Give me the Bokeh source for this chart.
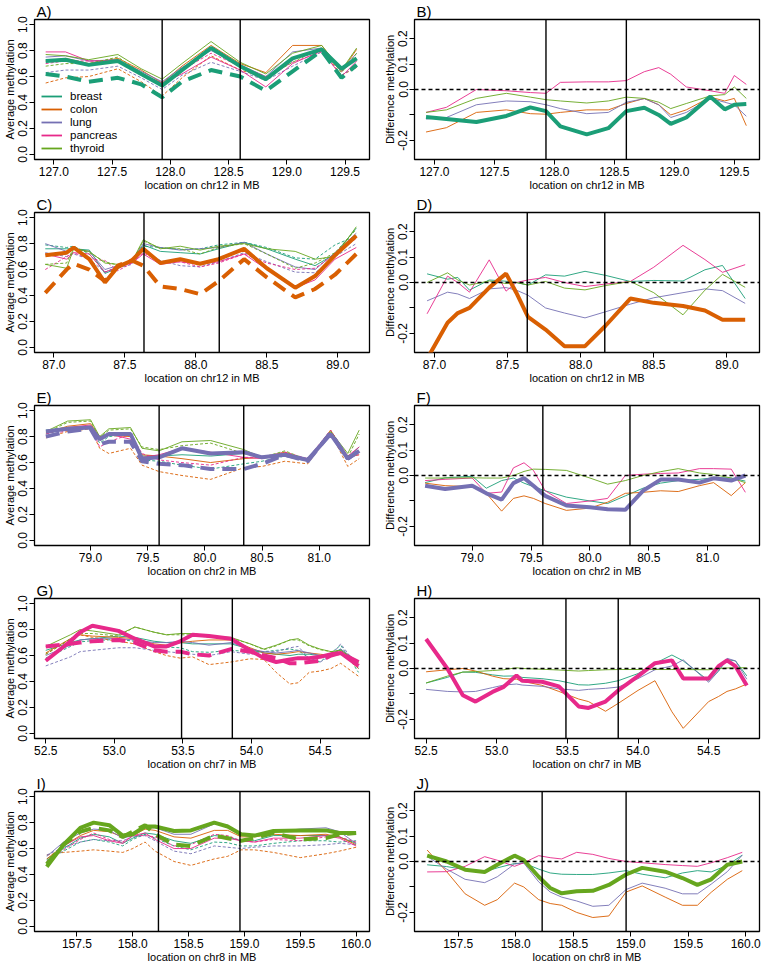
from bokeh.plotting import figure
from bokeh.layouts import gridplot
from bokeh.models import Span, Legend, LegendItem, FixedTicker, PrintfTickFormatter, Range1d
from bokeh.embed import file_html
from bokeh.resources import INLINE

TISSUES = ["breast", "colon", "lung", "pancreas", "thyroid"]
COLORS = {"breast": "#1B9E77", "colon": "#D95F02", "lung": "#7570B3",
          "pancreas": "#E7298A", "thyroid": "#66A61E"}
FONT = "Liberation Sans"

# ---------------- Panel A (chr12, breast highlighted) ----------------
A_x = [126.93, 127.1, 127.3, 127.55, 127.75, 127.93, 128.1, 128.35, 128.6, 128.82, 129.05, 129.3, 129.47, 129.6]
A_breast_n = [0.72, 0.73, 0.69, 0.72, 0.62, 0.53, 0.65, 0.82, 0.68, 0.58, 0.74, 0.81, 0.66, 0.74]
A_breast_t = [0.62, 0.60, 0.56, 0.59, 0.54, 0.44, 0.56, 0.65, 0.60, 0.49, 0.64, 0.80, 0.59, 0.69]
A_colon_n = [0.72, 0.74, 0.70, 0.74, 0.65, 0.55, 0.68, 0.84, 0.70, 0.63, 0.84, 0.84, 0.64, 0.81]
A_colon_t = [0.55, 0.59, 0.60, 0.66, 0.56, 0.45, 0.59, 0.76, 0.65, 0.59, 0.74, 0.81, 0.61, 0.67]
A_lung_n = [0.75, 0.76, 0.72, 0.73, 0.64, 0.56, 0.67, 0.80, 0.69, 0.60, 0.79, 0.82, 0.65, 0.78]
A_lung_t = [0.63, 0.65, 0.65, 0.68, 0.59, 0.50, 0.61, 0.71, 0.64, 0.57, 0.68, 0.79, 0.61, 0.68]
A_pancreas_n = [0.79, 0.79, 0.72, 0.72, 0.62, 0.55, 0.62, 0.75, 0.65, 0.52, 0.70, 0.80, 0.60, 0.72]
A_pancreas_t = [0.70, 0.72, 0.72, 0.72, 0.61, 0.53, 0.65, 0.78, 0.68, 0.60, 0.71, 0.79, 0.64, 0.74]
A_thyroid_n = [0.77, 0.76, 0.73, 0.77, 0.66, 0.58, 0.70, 0.87, 0.71, 0.62, 0.78, 0.84, 0.65, 0.82]
A_thyroid_t = [0.68, 0.70, 0.70, 0.75, 0.63, 0.54, 0.66, 0.82, 0.68, 0.59, 0.71, 0.82, 0.63, 0.78]

# ---------------- Panel B ----------------
B_x = [126.93, 127.1, 127.35, 127.6, 127.8, 127.93, 128.05, 128.27, 128.45, 128.6, 128.75, 128.87, 128.97, 129.1, 129.3, 129.42, 129.5, 129.6]
B_breast = [-0.108, -0.116, -0.128, -0.104, -0.07, -0.085, -0.145, -0.176, -0.152, -0.085, -0.072, -0.10, -0.135, -0.11, -0.028, -0.078, -0.06, -0.057]
B_colon = [-0.167, -0.15, -0.09, -0.08, -0.095, -0.097, -0.09, -0.08, -0.08, -0.055, -0.035, -0.06, -0.10, -0.08, -0.03, -0.045, -0.035, -0.142]
B_lung = [-0.116, -0.11, -0.06, -0.045, -0.048, -0.06, -0.075, -0.095, -0.09, -0.05, -0.036, -0.06, -0.11, -0.09, -0.035, -0.05, -0.06, -0.105]
B_pancreas = [-0.09, -0.07, 0.0, -0.005, -0.012, -0.015, 0.028, 0.030, 0.030, 0.035, 0.07, 0.086, 0.06, 0.01, -0.005, -0.015, 0.055, 0.02]
B_thyroid = [-0.09, -0.08, -0.035, -0.015, -0.03, -0.04, -0.045, -0.053, -0.045, -0.03, -0.035, -0.05, -0.075, -0.055, -0.025, -0.02, 0.01, -0.035]

# ---------------- Panel C (chr12, colon highlighted) ----------------
C_x = [86.94, 87.09, 87.14, 87.25, 87.36, 87.45, 87.55, 87.63, 87.75, 87.89, 88.03, 88.16, 88.34, 88.5, 88.7, 88.84, 88.98, 89.13]
C_colon_n = [0.71, 0.73, 0.77, 0.68, 0.50, 0.62, 0.67, 0.76, 0.65, 0.68, 0.645, 0.68, 0.76, 0.61, 0.46, 0.55, 0.71, 0.86]
C_colon_t = [0.42, 0.60, 0.645, 0.60, 0.51, 0.63, 0.67, 0.63, 0.47, 0.45, 0.41, 0.51, 0.68, 0.54, 0.385, 0.45, 0.56, 0.72]
C_breast_n = [0.76, 0.76, 0.76, 0.75, 0.57, 0.61, 0.66, 0.79, 0.74, 0.73, 0.72, 0.76, 0.81, 0.76, 0.68, 0.63, 0.72, 0.92]
C_breast_t = [0.79, 0.77, 0.78, 0.72, 0.58, 0.62, 0.66, 0.78, 0.77, 0.755, 0.76, 0.79, 0.81, 0.77, 0.69, 0.68, 0.79, 0.86]
C_lung_n = [0.80, 0.74, 0.76, 0.74, 0.60, 0.63, 0.67, 0.80, 0.77, 0.75, 0.76, 0.77, 0.81, 0.72, 0.62, 0.60, 0.73, 0.88]
C_lung_t = [0.73, 0.70, 0.72, 0.68, 0.58, 0.61, 0.64, 0.75, 0.67, 0.63, 0.62, 0.66, 0.73, 0.66, 0.58, 0.575, 0.70, 0.80]
C_pancreas_n = [0.72, 0.68, 0.73, 0.72, 0.58, 0.62, 0.65, 0.72, 0.64, 0.66, 0.64, 0.66, 0.72, 0.60, 0.46, 0.52, 0.68, 0.77]
C_pancreas_t = [0.60, 0.70, 0.73, 0.68, 0.67, 0.59, 0.65, 0.73, 0.66, 0.66, 0.62, 0.65, 0.72, 0.65, 0.60, 0.61, 0.72, 0.84]
C_thyroid_n = [0.64, 0.61, 0.76, 0.74, 0.65, 0.64, 0.66, 0.83, 0.76, 0.78, 0.75, 0.78, 0.80, 0.76, 0.74, 0.68, 0.70, 0.93]
C_thyroid_t = [0.64, 0.65, 0.77, 0.73, 0.66, 0.635, 0.66, 0.82, 0.765, 0.76, 0.72, 0.77, 0.80, 0.72, 0.61, 0.65, 0.73, 0.91]

# ---------------- Panel D ----------------
D_x = [86.95, 87.09, 87.16, 87.24, 87.375, 87.49, 87.56, 87.64, 87.76, 87.89, 88.03, 88.17, 88.34, 88.5, 88.7, 88.85, 88.97, 89.125]
D_colon = [-0.30, -0.158, -0.12, -0.10, -0.02, 0.035, -0.04, -0.135, -0.185, -0.25, -0.25, -0.17, -0.063, -0.08, -0.092, -0.11, -0.146, -0.146]
D_breast = [0.034, 0.013, 0.02, -0.03, 0.01, 0.005, 0.0, -0.01, 0.03, 0.025, 0.044, 0.028, 0.004, 0.008, 0.006, 0.05, 0.067, -0.063]
D_lung = [-0.072, -0.038, -0.045, -0.063, -0.025, -0.02, -0.03, -0.05, -0.10, -0.12, -0.139, -0.115, -0.085, -0.06, -0.04, -0.025, -0.032, -0.082]
D_pancreas = [-0.123, 0.025, 0.0, -0.038, 0.089, -0.034, 0.0, 0.01, 0.02, 0.0, -0.016, -0.006, 0.004, 0.06, 0.146, 0.09, 0.04, 0.07]
D_thyroid = [0.0, 0.038, 0.01, -0.01, 0.006, -0.004, 0.0, -0.01, 0.004, -0.022, -0.029, -0.012, 0.004, -0.04, -0.127, -0.03, 0.032, -0.019]

# ---------------- Panel E (chr2, lung highlighted) ----------------
E_x = [78.61, 78.8, 79.0, 79.08, 79.16, 79.35, 79.45, 79.6, 79.8, 80.05, 80.34, 80.5, 80.7, 80.9, 81.1, 81.25, 81.35]
E_lung_n = [0.84, 0.86, 0.87, 0.78, 0.82, 0.82, 0.63, 0.64, 0.71, 0.67, 0.68, 0.64, 0.66, 0.62, 0.82, 0.63, 0.69]
E_lung_t = [0.80, 0.84, 0.86, 0.74, 0.76, 0.76, 0.61, 0.59, 0.58, 0.55, 0.55, 0.59, 0.66, 0.61, 0.83, 0.63, 0.69]
E_breast_n = [0.85, 0.87, 0.88, 0.80, 0.82, 0.83, 0.65, 0.65, 0.66, 0.65, 0.67, 0.64, 0.67, 0.62, 0.83, 0.64, 0.72]
E_breast_t = [0.82, 0.86, 0.87, 0.75, 0.80, 0.82, 0.62, 0.61, 0.58, 0.55, 0.59, 0.61, 0.65, 0.61, 0.82, 0.62, 0.70]
E_colon_n = [0.83, 0.88, 0.90, 0.80, 0.81, 0.80, 0.66, 0.65, 0.63, 0.60, 0.63, 0.64, 0.68, 0.62, 0.85, 0.64, 0.66]
E_colon_t = [0.79, 0.84, 0.86, 0.71, 0.67, 0.71, 0.58, 0.53, 0.50, 0.47, 0.56, 0.57, 0.61, 0.59, 0.83, 0.57, 0.63]
E_pancreas_n = [0.82, 0.87, 0.89, 0.79, 0.82, 0.78, 0.64, 0.66, 0.71, 0.68, 0.64, 0.63, 0.67, 0.61, 0.83, 0.65, 0.72]
E_pancreas_t = [0.80, 0.85, 0.88, 0.72, 0.76, 0.82, 0.67, 0.62, 0.60, 0.58, 0.64, 0.64, 0.68, 0.63, 0.85, 0.65, 0.66]
E_thyroid_n = [0.84, 0.92, 0.93, 0.80, 0.86, 0.87, 0.71, 0.69, 0.76, 0.77, 0.70, 0.64, 0.67, 0.62, 0.84, 0.67, 0.85]
E_thyroid_t = [0.83, 0.91, 0.92, 0.79, 0.85, 0.86, 0.72, 0.70, 0.73, 0.75, 0.67, 0.64, 0.69, 0.62, 0.84, 0.64, 0.82]

# ---------------- Panel F ----------------
F_x = [78.6, 78.77, 79.0, 79.12, 79.25, 79.35, 79.44, 79.52, 79.62, 79.8, 80.0, 80.15, 80.3, 80.45, 80.6, 80.75, 80.93, 81.05, 81.2, 81.32]
F_lung = [-0.04, -0.053, -0.04, -0.07, -0.095, -0.03, -0.01, -0.04, -0.08, -0.118, -0.125, -0.133, -0.135, -0.06, -0.016, -0.016, -0.028, -0.011, -0.02, 0.0]
F_pancreas = [-0.02, -0.015, -0.01, -0.07, -0.065, 0.03, 0.05, 0.02, -0.06, -0.11, -0.10, -0.09, 0.0, 0.005, 0.008, 0.01, 0.027, 0.027, 0.025, -0.066]
F_colon = [-0.03, -0.04, -0.044, -0.07, -0.14, -0.09, -0.08, -0.09, -0.11, -0.137, -0.128, -0.105, -0.07, -0.066, -0.06, -0.063, -0.04, -0.028, -0.079, -0.028]
F_thyroid = [-0.01, -0.01, -0.009, -0.01, -0.01, 0.0, 0.016, 0.025, 0.024, 0.02, -0.01, -0.034, -0.02, 0.0, 0.015, 0.027, 0.01, 0.004, -0.01, -0.028]
F_breast = [-0.028, -0.009, -0.003, -0.05, -0.02, -0.01, -0.03, -0.044, -0.06, -0.085, -0.10, -0.11, -0.08, -0.05, -0.03, -0.02, -0.015, -0.009, -0.01, -0.022]

# ---------------- Panel G (chr7, pancreas highlighted) ----------------
G_x = [52.5, 52.68, 52.75, 52.84, 53.03, 53.15, 53.29, 53.38, 53.48, 53.57, 53.69, 53.85, 53.99, 54.09, 54.18, 54.28, 54.34, 54.42, 54.5, 54.58, 54.65, 54.78]
G_pancreas_n = [0.56, 0.71, 0.78, 0.83, 0.79, 0.73, 0.67, 0.67, 0.71, 0.76, 0.75, 0.73, 0.64, 0.58, 0.55, 0.57, 0.58, 0.58, 0.59, 0.61, 0.62, 0.52]
G_pancreas_t = [0.67, 0.69, 0.70, 0.71, 0.72, 0.70, 0.64, 0.63, 0.63, 0.61, 0.60, 0.65, 0.63, 0.60, 0.58, 0.54, 0.54, 0.55, 0.56, 0.60, 0.62, 0.55]
G_thyroid_n = [0.67, 0.76, 0.80, 0.79, 0.76, 0.82, 0.78, 0.76, 0.77, 0.77, 0.75, 0.74, 0.69, 0.65, 0.68, 0.72, 0.73, 0.68, 0.65, 0.63, 0.64, 0.55]
G_thyroid_t = [0.61, 0.73, 0.77, 0.77, 0.75, 0.82, 0.78, 0.76, 0.76, 0.76, 0.74, 0.735, 0.69, 0.645, 0.675, 0.72, 0.72, 0.675, 0.645, 0.63, 0.64, 0.55]
G_breast_n = [0.64, 0.70, 0.72, 0.73, 0.75, 0.74, 0.71, 0.70, 0.70, 0.69, 0.69, 0.69, 0.65, 0.62, 0.61, 0.60, 0.61, 0.61, 0.60, 0.61, 0.65, 0.50]
G_breast_t = [0.58, 0.67, 0.705, 0.715, 0.725, 0.71, 0.68, 0.665, 0.66, 0.63, 0.625, 0.64, 0.63, 0.63, 0.64, 0.65, 0.64, 0.58, 0.55, 0.62, 0.68, 0.47]
G_colon_n = [0.62, 0.73, 0.76, 0.75, 0.74, 0.73, 0.69, 0.68, 0.70, 0.71, 0.72, 0.72, 0.66, 0.62, 0.61, 0.62, 0.63, 0.62, 0.61, 0.60, 0.62, 0.50]
G_colon_t = [0.61, 0.725, 0.76, 0.74, 0.71, 0.69, 0.63, 0.60, 0.58, 0.59, 0.53, 0.55, 0.575, 0.57, 0.47, 0.38, 0.39, 0.47, 0.48, 0.50, 0.54, 0.44]
G_lung_n = [0.60, 0.68, 0.72, 0.73, 0.73, 0.72, 0.70, 0.70, 0.71, 0.70, 0.68, 0.70, 0.65, 0.63, 0.62, 0.63, 0.64, 0.62, 0.60, 0.60, 0.65, 0.55]
G_lung_t = [0.52, 0.59, 0.63, 0.64, 0.66, 0.66, 0.64, 0.63, 0.62, 0.61, 0.60, 0.63, 0.61, 0.63, 0.63, 0.66, 0.67, 0.58, 0.55, 0.60, 0.69, 0.51]

# ---------------- Panel H ----------------
H_x = [52.5, 52.65, 52.76, 52.85, 52.97, 53.05, 53.14, 53.18, 53.32, 53.44, 53.58, 53.65, 53.77, 53.86, 54.0, 54.12, 54.24, 54.32, 54.5, 54.57, 54.63, 54.69, 54.77]
H_pancreas = [0.116, 0.0, -0.105, -0.13, -0.092, -0.072, -0.027, -0.048, -0.052, -0.07, -0.149, -0.155, -0.13, -0.086, -0.03, 0.021, 0.032, -0.039, -0.039, 0.009, 0.032, 0.009, -0.067]
H_colon = [-0.013, -0.005, 0.0, -0.01, -0.03, -0.04, -0.042, -0.05, -0.066, -0.09, -0.12, -0.13, -0.168, -0.137, -0.086, -0.048, -0.17, -0.235, -0.13, -0.11, -0.09, -0.08, -0.061]
H_thyroid = [-0.057, -0.03, -0.014, -0.012, -0.008, -0.005, 0.003, 0.0, -0.003, -0.006, -0.01, -0.008, -0.005, -0.004, -0.004, -0.004, -0.004, -0.004, -0.005, 0.0, 0.002, 0.003, 0.003]
H_breast = [-0.057, -0.035, -0.014, -0.015, -0.025, -0.03, -0.029, -0.035, -0.04, -0.048, -0.064, -0.065, -0.058, -0.048, -0.02, 0.02, 0.053, 0.03, -0.048, -0.01, 0.035, 0.03, -0.029]
H_lung = [-0.082, -0.09, -0.092, -0.09, -0.075, -0.065, -0.061, -0.065, -0.07, -0.08, -0.086, -0.082, -0.078, -0.073, -0.04, -0.005, 0.01, 0.034, -0.054, -0.01, 0.04, 0.03, -0.042]

# ---------------- Panel I (chr8, thyroid highlighted) ----------------
I_x = [157.23, 157.38, 157.53, 157.65, 157.79, 157.91, 158.0, 158.11, 158.2, 158.37, 158.52, 158.73, 158.85, 158.97, 159.09, 159.26, 159.5, 159.73, 159.85, 160.0]
I_thyroid_n = [0.46, 0.63, 0.76, 0.80, 0.78, 0.70, 0.71, 0.77, 0.77, 0.735, 0.74, 0.80, 0.77, 0.71, 0.70, 0.735, 0.74, 0.74, 0.72, 0.72]
I_thyroid_t = [0.48, 0.63, 0.73, 0.76, 0.74, 0.69, 0.73, 0.78, 0.71, 0.63, 0.62, 0.70, 0.68, 0.66, 0.68, 0.72, 0.67, 0.68, 0.71, 0.72]
I_breast_n = [0.52, 0.60, 0.68, 0.71, 0.69, 0.64, 0.68, 0.72, 0.71, 0.66, 0.64, 0.70, 0.69, 0.66, 0.66, 0.70, 0.70, 0.70, 0.69, 0.64]
I_breast_t = [0.51, 0.58, 0.65, 0.67, 0.65, 0.62, 0.67, 0.71, 0.68, 0.62, 0.59, 0.65, 0.645, 0.62, 0.62, 0.64, 0.66, 0.66, 0.65, 0.66]
I_lung_n = [0.54, 0.65, 0.72, 0.75, 0.74, 0.68, 0.70, 0.76, 0.76, 0.71, 0.71, 0.79, 0.78, 0.71, 0.70, 0.73, 0.75, 0.76, 0.73, 0.64]
I_lung_t = [0.55, 0.61, 0.65, 0.67, 0.66, 0.66, 0.69, 0.70, 0.66, 0.58, 0.56, 0.62, 0.61, 0.60, 0.61, 0.62, 0.62, 0.63, 0.64, 0.63]
I_colon_n = [0.52, 0.62, 0.70, 0.74, 0.73, 0.69, 0.70, 0.75, 0.74, 0.69, 0.68, 0.74, 0.74, 0.69, 0.69, 0.71, 0.70, 0.71, 0.69, 0.63]
I_colon_t = [0.55, 0.57, 0.58, 0.59, 0.58, 0.57, 0.60, 0.65, 0.58, 0.50, 0.47, 0.52, 0.54, 0.59, 0.59, 0.57, 0.53, 0.56, 0.58, 0.61]
I_pancreas_n = [0.50, 0.62, 0.69, 0.70, 0.66, 0.64, 0.70, 0.72, 0.67, 0.60, 0.60, 0.68, 0.68, 0.66, 0.65, 0.68, 0.68, 0.70, 0.68, 0.62]
I_pancreas_t = [0.50, 0.59, 0.67, 0.72, 0.67, 0.65, 0.70, 0.70, 0.69, 0.62, 0.63, 0.71, 0.70, 0.66, 0.65, 0.67, 0.66, 0.69, 0.69, 0.65]

# ---------------- Panel J ----------------
J_x = [157.23, 157.4, 157.56, 157.73, 157.84, 157.99, 158.07, 158.2, 158.3, 158.4, 158.53, 158.67, 158.81, 158.96, 159.1, 159.3, 159.45, 159.58, 159.7, 159.84, 159.97]
J_thyroid = [0.023, 0.0, -0.032, -0.041, -0.013, 0.023, 0.006, -0.06, -0.104, -0.125, -0.117, -0.115, -0.092, -0.051, -0.025, -0.04, -0.065, -0.092, -0.07, -0.013, 0.0]
J_pancreas = [-0.041, -0.04, -0.019, 0.019, 0.005, -0.019, -0.005, 0.023, 0.015, 0.01, 0.036, 0.028, 0.012, 0.0, -0.005, -0.012, -0.016, -0.019, -0.005, 0.015, 0.036]
J_breast = [-0.013, -0.02, -0.032, -0.04, -0.025, -0.008, -0.006, -0.03, -0.045, -0.05, -0.051, -0.051, -0.045, -0.036, -0.05, -0.064, -0.045, -0.036, -0.041, -0.015, 0.025]
J_lung = [0.02, -0.03, -0.07, -0.083, -0.06, -0.01, -0.006, -0.08, -0.12, -0.14, -0.155, -0.176, -0.172, -0.11, -0.085, -0.105, -0.127, -0.127, -0.089, -0.04, 0.025]
J_colon = [0.045, -0.04, -0.127, -0.172, -0.15, -0.085, -0.1, -0.15, -0.165, -0.172, -0.2, -0.22, -0.214, -0.12, -0.096, -0.14, -0.172, -0.172, -0.121, -0.07, -0.036]

# region boundaries (vertical lines) and axis ranges per row
ROW_VLINES = [(127.93, 128.60), (87.635, 88.165), (79.60, 80.34), (53.49, 53.86), (158.23, 158.96)]
ROW_XRANGE = [(126.834, 129.71), (86.864, 89.223), (78.51, 81.44), (52.418, 54.86), (157.12, 160.12)]
ROW_XTICKS = [[127.0, 127.5, 128.0, 128.5, 129.0, 129.5],
              [87.0, 87.5, 88.0, 88.5, 89.0],
              [79.0, 79.5, 80.0, 80.5, 81.0],
              [52.5, 53.0, 53.5, 54.0, 54.5],
              [157.5, 158.0, 158.5, 159.0, 159.5, 160.0]]
ROW_CHR = ["chr12", "chr12", "chr2", "chr7", "chr8"]
ROW_HL = ["breast", "colon", "lung", "pancreas", "thyroid"]
LEFT_TITLES = ["A)", "C)", "E)", "G)", "I)"]
RIGHT_TITLES = ["B)", "D)", "F)", "H)", "J)"]
LEFT_Y_TICKS = [0.0, 0.2, 0.4, 0.6, 0.8, 1.0]
RIGHT_Y_TICKS = [-0.2, -0.1, 0.0, 0.1, 0.2]

LEFT_DATA = [
    (A_x, {"breast": (A_breast_n, A_breast_t), "colon": (A_colon_n, A_colon_t), "lung": (A_lung_n, A_lung_t),
           "pancreas": (A_pancreas_n, A_pancreas_t), "thyroid": (A_thyroid_n, A_thyroid_t)}),
    (C_x, {"breast": (C_breast_n, C_breast_t), "colon": (C_colon_n, C_colon_t), "lung": (C_lung_n, C_lung_t),
           "pancreas": (C_pancreas_n, C_pancreas_t), "thyroid": (C_thyroid_n, C_thyroid_t)}),
    (E_x, {"breast": (E_breast_n, E_breast_t), "colon": (E_colon_n, E_colon_t), "lung": (E_lung_n, E_lung_t),
           "pancreas": (E_pancreas_n, E_pancreas_t), "thyroid": (E_thyroid_n, E_thyroid_t)}),
    (G_x, {"breast": (G_breast_n, G_breast_t), "colon": (G_colon_n, G_colon_t), "lung": (G_lung_n, G_lung_t),
           "pancreas": (G_pancreas_n, G_pancreas_t), "thyroid": (G_thyroid_n, G_thyroid_t)}),
    (I_x, {"breast": (I_breast_n, I_breast_t), "colon": (I_colon_n, I_colon_t), "lung": (I_lung_n, I_lung_t),
           "pancreas": (I_pancreas_n, I_pancreas_t), "thyroid": (I_thyroid_n, I_thyroid_t)}),
]
RIGHT_DATA = [
    (B_x, {"breast": B_breast, "colon": B_colon, "lung": B_lung, "pancreas": B_pancreas, "thyroid": B_thyroid}),
    (D_x, {"breast": D_breast, "colon": D_colon, "lung": D_lung, "pancreas": D_pancreas, "thyroid": D_thyroid}),
    (F_x, {"breast": F_breast, "colon": F_colon, "lung": F_lung, "pancreas": F_pancreas, "thyroid": F_thyroid}),
    (H_x, {"breast": H_breast, "colon": H_colon, "lung": H_lung, "pancreas": H_pancreas, "thyroid": H_thyroid}),
    (J_x, {"breast": J_breast, "colon": J_colon, "lung": J_lung, "pancreas": J_pancreas, "thyroid": J_thyroid}),
]

ROW_H = 193
BORDER_L = 33


def base_fig(title, width, xr, yr, border_left, border_right):
    p = figure(width=width, height=ROW_H, x_range=Range1d(*xr), y_range=Range1d(*yr),
               output_backend="svg", toolbar_location=None, tools="",
               min_border_left=border_left, min_border_right=border_right,
               min_border_top=18, min_border_bottom=34, title=title)
    p.title.text_font = FONT
    p.title.text_font_size = "15px"
    p.title.text_font_style = "normal"
    p.title.text_color = "black"
    p.title.align = "left"
    p.title.standoff = 0
    p.title.offset = 2
    p.grid.visible = False
    p.outline_line_color = "black"
    p.outline_line_width = 1.3
    p.background_fill_color = "white"
    p.border_fill_color = "white"
    for ax in (p.xaxis[0], p.yaxis[0]):
        ax.axis_line_color = None
        ax.major_tick_line_color = "black"
        ax.major_tick_line_width = 1
        ax.major_tick_out = 5
        ax.major_tick_in = 0
        ax.minor_tick_line_color = None
        ax.major_label_text_font = FONT
        ax.major_label_text_font_size = "12px"
        ax.major_label_text_color = "black"
        ax.major_label_standoff = 2
        ax.axis_label_text_font = FONT
        ax.axis_label_text_font_size = "11px"
        ax.axis_label_text_font_style = "normal"
        ax.axis_label_text_color = "black"
        ax.axis_label_standoff = 0
        ax.formatter = PrintfTickFormatter(format="%.1f")
    p.yaxis.major_label_orientation = "vertical"
    return p


def add_vlines(p, vl):
    for v in vl:
        p.add_layout(Span(location=v, dimension="height", line_color="black", line_width=1.4))


figs = []
for i in range(5):
    hl = ROW_HL[i]
    # ---- left panel ----
    x, ser = LEFT_DATA[i]
    pl = base_fig(LEFT_TITLES[i], 380, ROW_XRANGE[i], (-0.04, 1.04), BORDER_L, 11)
    pl.xaxis.ticker = FixedTicker(ticks=ROW_XTICKS[i])
    pl.yaxis.ticker = FixedTicker(ticks=LEFT_Y_TICKS)
    pl.xaxis.axis_label = "location on %s in MB" % ROW_CHR[i]
    pl.yaxis.axis_label = "Average methylation"
    for t in TISSUES:
        if t == hl:
            continue
        n, tu = ser[t]
        pl.line(x, tu, line_color=COLORS[t], line_width=0.9, line_dash="3 2")
        pl.line(x, n, line_color=COLORS[t], line_width=0.9)
    n, tu = ser[hl]
    pl.line(x, n, line_color=COLORS[hl], line_width=4)
    pl.line(x, tu, line_color=COLORS[hl], line_width=4, line_dash="14 8")
    add_vlines(pl, ROW_VLINES[i])
    if i == 0:
        items = []
        x0 = ROW_XRANGE[i][0] - 5
        for t in TISSUES:
            # legend key only: placed outside the visible range
            r = pl.line([x0, x0 - 1], [5, 5], line_color=COLORS[t], line_width=1.8)
            items.append(LegendItem(label=t, renderers=[r]))
        leg = Legend(items=items, location=(7, 5), border_line_color=None,
                     background_fill_alpha=0, label_text_font=FONT, label_text_color="black",
                     label_text_font_size="11.5px", glyph_width=21, glyph_height=12,
                     label_height=12, label_standoff=8, spacing=1, padding=0, margin=0)
        pl.add_layout(leg)

    # ---- right panel ----
    x, ser = RIGHT_DATA[i]
    pr = base_fig(RIGHT_TITLES[i], 381, ROW_XRANGE[i], (-0.275, 0.275), BORDER_L, 2)
    pr.xaxis.ticker = FixedTicker(ticks=ROW_XTICKS[i])
    pr.yaxis.ticker = FixedTicker(ticks=RIGHT_Y_TICKS)
    pr.yaxis.major_label_overrides = {-0.1: ""}
    pr.xaxis.axis_label = "location on %s in MB" % ROW_CHR[i]
    pr.yaxis.axis_label = "Difference methylation"
    for t in TISSUES:
        if t == hl:
            continue
        pr.line(x, ser[t], line_color=COLORS[t], line_width=0.9)
    pr.line(x, ser[hl], line_color=COLORS[hl], line_width=4)
    pr.add_layout(Span(location=0, dimension="width", line_color="black", line_width=1.4, line_dash="4 3"))
    add_vlines(pr, ROW_VLINES[i])
    figs.append([pl, pr])

grid = gridplot(figs, toolbar_location=None)

open("out.html", "w").write(file_html(grid, INLINE))
